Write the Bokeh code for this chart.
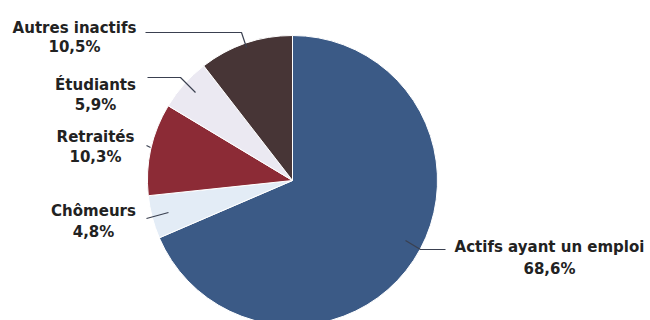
import math
from bokeh.plotting import figure
from bokeh.models import Range1d, ColumnDataSource
from bokeh.core.properties import value
from bokeh.embed import file_html
from bokeh.resources import INLINE

categories = ["Actifs ayant un emploi", "Chômeurs", "Retraités", "Étudiants", "Autres inactifs"]
shares = [68.6, 4.8, 10.3, 5.9, 10.5]
colors = ["#3b5a86", "#e3ecf6", "#8c2b36", "#ebe9f2", "#473536"]

W, H = 650, 320
p = figure(width=W, height=H, x_range=Range1d(0, W), y_range=Range1d(0, H),
           output_backend="svg", toolbar_location=None, min_border=0)
p.axis.visible = False
p.grid.visible = False
p.outline_line_color = None
p.background_fill_color = "white"
p.border_fill_color = "white"

cx, cy, r = 292, H - 180, 145
total = sum(shares)
starts, ends = [], []
acc = 0.0
for s in shares:
    a0 = math.pi / 2 - 2 * math.pi * (acc + s) / total
    a1 = math.pi / 2 - 2 * math.pi * acc / total
    starts.append(a0)
    ends.append(a1)
    acc += s

src = ColumnDataSource(dict(start=starts, end=ends, color=colors))
p.wedge(x=cx, y=cy, radius=r, start_angle="start", end_angle="end",
        fill_color="color", line_color="white", line_width=1, source=src)

# label layout (pixel positions from top-left): (x, y of name, y of percent)
label_pos = [(549, 246, 268), (93, 210, 231), (95, 136, 156), (95, 84, 104), (74, 27, 46)]
leaders = [
    [(445, 249), (420, 249), (405, 240)],
    [(146, 218), (168, 212)],
    [(146, 145), (150, 147)],
    [(147, 77), (180, 77), (195, 92)],
    [(145, 32), (241, 32), (246, 47)],
]
for pts in leaders:
    p.line([q[0] for q in pts], [H - q[1] for q in pts], line_color="#3a4050", line_width=1.2)

lx = [q[0] for q in label_pos]
ly1 = [H - q[1] for q in label_pos]
ly2 = [H - q[2] for q in label_pos]
pct = [("%.1f" % s).replace(".", ",") + "%" for s in shares]
font = value("DejaVu Sans")
p.text(x=lx, y=ly1, text=categories, text_align="center", text_baseline="middle",
       text_font=font, text_font_style="bold", text_font_size="15px", text_color="#222222")
p.text(x=lx, y=ly2, text=pct, text_align="center", text_baseline="middle",
       text_font=font, text_font_style="bold", text_font_size="15px", text_color="#222222")

open("out.html", "w").write(file_html(p, INLINE))
